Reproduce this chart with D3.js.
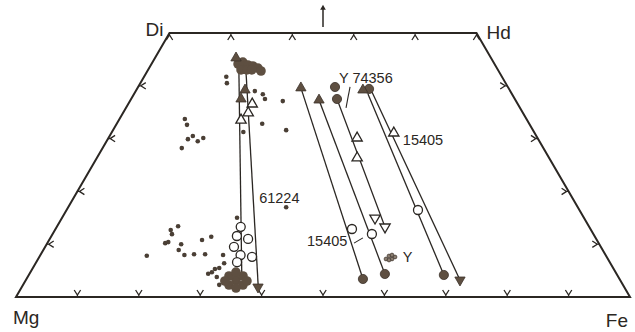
<!DOCTYPE html>
<html>
<head>
<meta charset="utf-8">
<script src="https://cdn.jsdelivr.net/npm/d3@7"></script>
<style>
  body { margin: 0; background: #fff; }
  text { font-family: "Liberation Sans", Arial, sans-serif; fill: #2b2723; }
</style>
</head>
<body>
<svg id="chart"></svg>
<script>
// all compositions are [Fs, Wo] in mol %  (En = 100 - Fs - Wo)
const corners = [
  { name: "Mg", c: [0, 0] },
  { name: "Di", c: [0, 50] },
  { name: "Hd", c: [50, 50] },
  { name: "Fe", c: [100, 0] }
];
const topTicks = [0, 10, 20, 30, 40, 50];
const bottomTicks = [10, 20, 30, 40, 50, 60, 70, 80, 90];
const sideTicks = [10, 20, 30, 40];

const smallDots = [
  [13.4, 41.7], [14.1, 40.5], [19.4, 39.0], [21.0, 38.4], [21.8, 37.5], [24.9, 37.1],
  [10.65, 33.7], [11.55, 32.6], [13.55, 30.5], [13.05, 29.9], [14.85, 29.5], [15.45, 30.1], [12.9, 28.2],
  [23.7, 32.8], [28.2, 31.6], [21.4, 31.25], [35.5, 17.0], [28.5, 15.0],
  [19.7, 13.4], [18.85, 12.7], [19.45, 11.9], [26.1, 11.4], [24.9, 10.8], [19.2, 10.2], [19.6, 10.4],
  [21.9, 10.0], [22.05, 8.9], [23.45, 7.95], [24.95, 8.1], [26.75, 8.1], [17.4, 7.8], [29.75, 7.95],
  [30.7, 6.4], [30.35, 5.5], [29.75, 5.3], [29.55, 4.7], [29.1, 4.4], [30.8, 3.8], [31.95, 2.3]
];
// dense clusters of analyses (drawn as overlapping filled circles)
const clusterTop = [
  [14.1, 44.13], [14.7, 44.5], [15.8, 43.94], [16.7, 43.75], [17.7, 43.37], [18.5, 42.8],
  [15.15, 43.0], [16.1, 43.0], [16.9, 43.0]
];
const clusterBottom = [
  [34.22, 3.22], [32.7, 3.98], [34.98, 3.98], [33.55, 2.27], [35.83, 2.27],
  [33.46, 4.73], [34.98, 1.7], [32.5, 3.03], [36.1, 3.03]
];
const openCircles = [
  [29.95, 13.3], [30.2, 11.55], [32.3, 11.0], [30.75, 9.5], [32.6, 7.95], [34.64, 7.6], [32.7, 6.6],
  [48.28, 12.88], [52.0, 11.93], [57.23, 16.48]
];
const filledCircles = [
  [32.07, 39.77], [33.53, 37.5], [37.8, 39.4], [54.8, 3.41], [57.9, 4.36], [67.6, 4.17]
];
const filledUp = [[13.2, 45.27], [17.7, 39.2], [17.9, 37.5], [26.6, 39.6], [30.7, 37.3], [36.9, 39.2]];
const filledDown = [[38.47, 1.89], [70.7, 3.22]];
const openUp = [[20.2, 36.55], [20.4, 34.85], [19.9, 33.5], [40.5, 30.11], [42.4, 26.33], [46.0, 31.06]];
const openDown = [[50.99, 14.96], [53.47, 13.26]];
const yCluster = [[56.66, 7.2], [56.86, 7.77], [57.64, 7.2], [57.94, 7.58], [57.26, 7.95], [57.25, 7.0]];

// zoning trends (core -> rim)
const trends = [
  [[14.8, 43.0], [34.4, 4.73]],
  [[16.16, 42.6], [38.2, 2.46]],
  [[26.6, 39.6], [54.8, 3.41]],
  [[30.7, 37.3], [57.9, 4.36]],
  [[33.53, 37.5], [53.47, 13.26]],
  [[38.1, 38.45], [67.6, 4.17]],
  [[38.56, 38.83], [70.7, 3.22]]
];
const labels = [
  { text: "Y 74356", c: [32.35, 40.5] },
  { text: "15405", c: [48.6, 28.8] },
  { text: "61224", c: [30.7, 17.8] },
  { text: "15405", c: [42.57, 9.66] },
  { text: "Y", c: [59.7, 6.6] }
];
const leaders = [
  [[35.85, 35.8], [34.5, 39.8]],
  [[49.95, 10.2], [50.9, 11.2]]
];

const width = 635, height = 332;
const ink = "#2b2723", fillC = "#5e4f41", edgeC = "#3b3129";

const svg = d3.select("#chart").attr("width", width).attr("height", height);
svg.append("rect").attr("width", width).attr("height", height).attr("fill", "#fff");

const xScale = d3.scaleLinear().domain([0, 100]).range([16, 630]);
const yScale = d3.scaleLinear().domain([0, 50]).range([297, 33]);
const px = c => xScale(c[0] + c[1] / 2);
const py = c => yScale(c[1]);

// quadrilateral frame
svg.append("path")
  .attr("d", d3.line().x(px).y(py)(corners.map(d => d.c)) + "Z")
  .attr("fill", "none").attr("stroke", ink).attr("stroke-width", 2)
  .attr("stroke-linejoin", "miter");

// chevron ticks pointing outwards, sitting just inside the edge
function chevron(c, ux, uy) {
  const x = px(c), y = py(c);
  const vx = -uy, vy = ux;
  const ax = x - ux * 2, ay = y - uy * 2;
  return `M${x - ux * 7 + vx * 3.2},${y - uy * 7 + vy * 3.2}L${ax},${ay}L${x - ux * 7 - vx * 3.2},${y - uy * 7 - vy * 3.2}M${ax},${ay}L${x},${y}`;
}
const ticks = [];
topTicks.forEach(f => ticks.push(chevron([f, 50], 0, -1)));
bottomTicks.forEach(f => ticks.push(chevron([f, 0], 0, 1)));
sideTicks.forEach(w => ticks.push(chevron([0, w], -1, 0)));
sideTicks.forEach(w => ticks.push(chevron([100 - w, w], 1, 0)));
svg.append("g").selectAll("path").data(ticks).enter().append("path")
  .attr("d", d => d).attr("fill", "none").attr("stroke", ink).attr("stroke-width", 1.3);

// arrow towards Wo above the Di-Hd join
const apex = [25, 50];
svg.append("line")
  .attr("x1", px(apex)).attr("x2", px(apex))
  .attr("y1", py(apex) - 6).attr("y2", py(apex) - 25)
  .attr("stroke", ink).attr("stroke-width", 1.5);
svg.append("path")
  .attr("d", d3.symbol(d3.symbolTriangle, 14)())
  .attr("transform", `translate(${px(apex)},${py(apex) - 25})`)
  .attr("fill", ink);

// corner labels
const cornerOffset = { Mg: [-3, 27, "start"], Di: [-6, 3, "end"], Hd: [10, 6, "start"], Fe: [-2, 30, "end"] };
svg.append("g").selectAll("text").data(corners).enter().append("text")
  .attr("x", d => px(d.c) + cornerOffset[d.name][0])
  .attr("y", d => py(d.c) + cornerOffset[d.name][1])
  .attr("text-anchor", d => cornerOffset[d.name][2])
  .attr("font-size", 19)
  .text(d => d.name);

// trend lines
svg.append("g").selectAll("line").data(trends).enter().append("line")
  .attr("x1", d => px(d[0])).attr("y1", d => py(d[0]))
  .attr("x2", d => px(d[1])).attr("y2", d => py(d[1]))
  .attr("stroke", ink).attr("stroke-width", 1.3);

svg.append("g").selectAll("line").data(leaders).enter().append("line")
  .attr("x1", d => px(d[0])).attr("y1", d => py(d[0]))
  .attr("x2", d => px(d[1])).attr("y2", d => py(d[1]))
  .attr("stroke", ink).attr("stroke-width", 1.1);

// small dots
svg.append("g").selectAll("circle").data(smallDots).enter().append("circle")
  .attr("cx", px).attr("cy", py).attr("r", 2.3).attr("fill", "#4a3f35");

// clusters
svg.append("g").selectAll("circle").data(clusterTop.concat(clusterBottom)).enter().append("circle")
  .attr("cx", px).attr("cy", py).attr("r", 4.8).attr("fill", fillC);

svg.append("g").selectAll("circle").data(yCluster).enter().append("circle")
  .attr("cx", px).attr("cy", py).attr("r", 1.9)
  .attr("fill", "#8a7d70").attr("stroke", edgeC).attr("stroke-width", 0.7);

// circles
svg.append("g").selectAll("circle").data(filledCircles).enter().append("circle")
  .attr("cx", px).attr("cy", py).attr("r", 4.6)
  .attr("fill", fillC).attr("stroke", edgeC).attr("stroke-width", 0.8);
svg.append("g").selectAll("circle").data(openCircles).enter().append("circle")
  .attr("cx", px).attr("cy", py).attr("r", 4.5)
  .attr("fill", "#fff").attr("stroke", ink).attr("stroke-width", 1.3);

// triangles
const tri = d3.symbol(d3.symbolTriangle, 46);
function triangles(data, down, filled) {
  svg.append("g").selectAll("path").data(data).enter().append("path")
    .attr("d", tri())
    .attr("transform", d => `translate(${px(d)},${py(d)})` + (down ? " rotate(180)" : ""))
    .attr("fill", filled ? fillC : "#fff")
    .attr("stroke", filled ? edgeC : ink)
    .attr("stroke-width", filled ? 0.8 : 1.3);
}
triangles(filledUp, false, true);
triangles(filledDown, true, true);
triangles(openUp, false, false);
triangles(openDown, true, false);

// sample labels
svg.append("g").selectAll("text").data(labels).enter().append("text")
  .attr("x", d => px(d.c)).attr("y", d => py(d.c))
  .attr("font-size", 14.5)
  .text(d => d.text);
</script>
</body>
</html>
